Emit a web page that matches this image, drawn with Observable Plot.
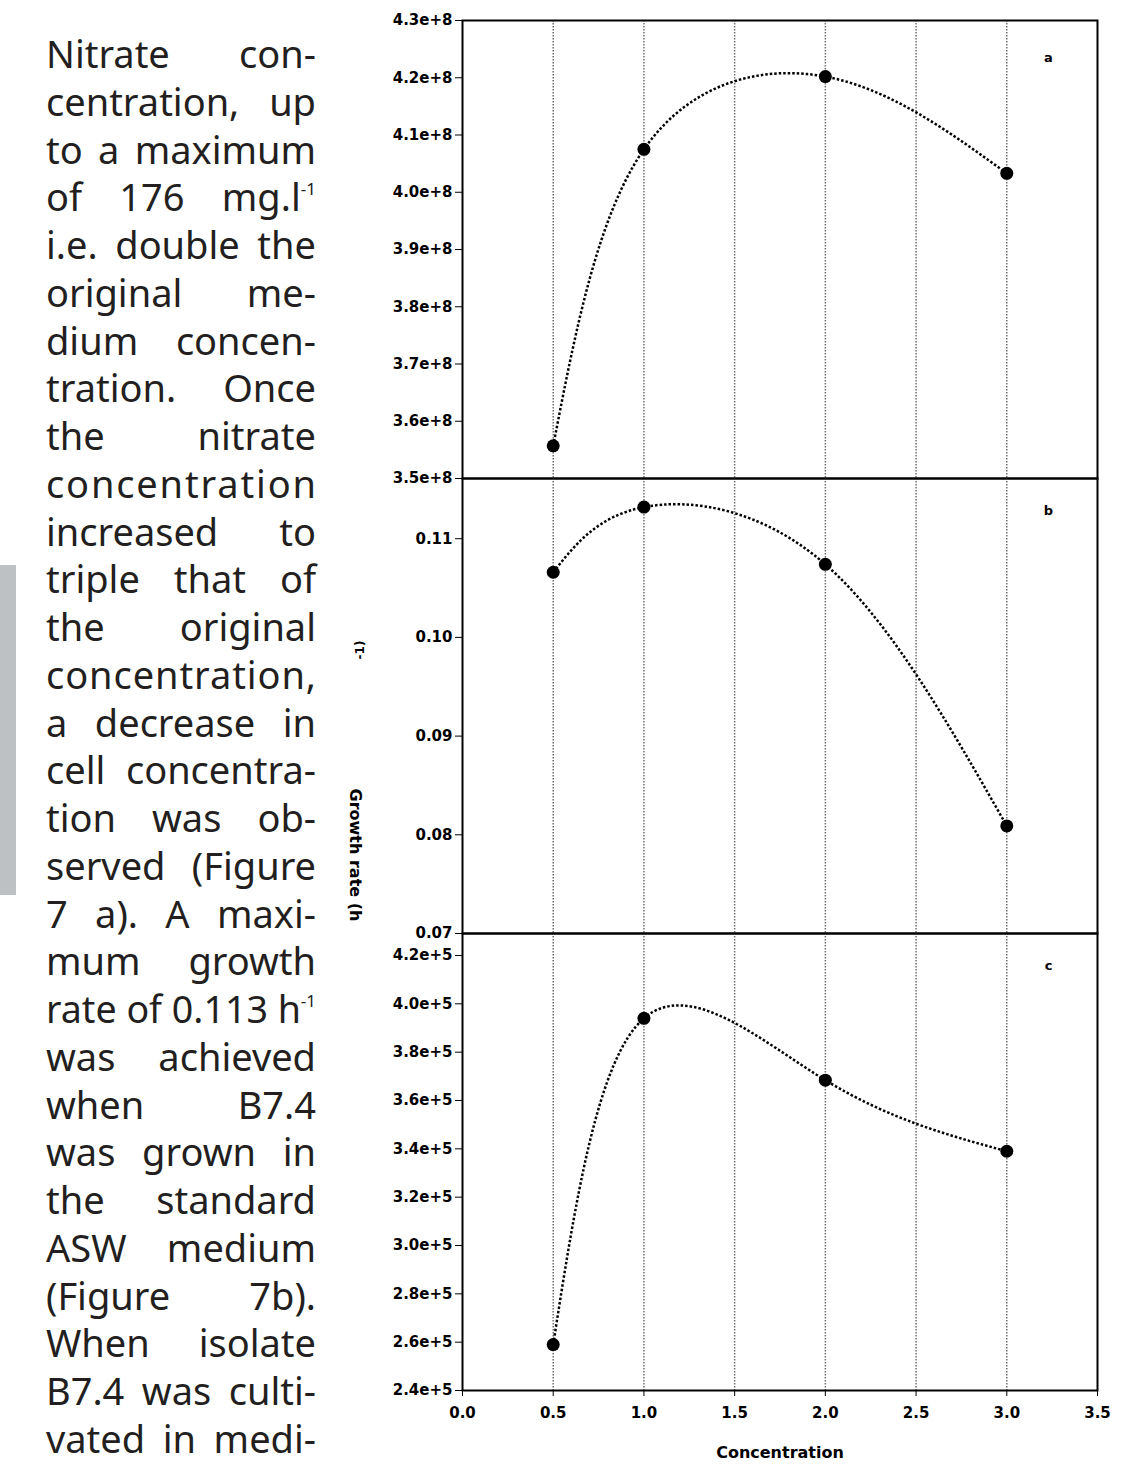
<!DOCTYPE html>
<html>
<head>
<meta charset="utf-8">
<script src="https://cdn.jsdelivr.net/npm/d3@7"></script>
<script src="https://cdn.jsdelivr.net/npm/@observablehq/plot@0.6"></script>
<style>
  html, body { margin: 0; padding: 0; background: white; }
  #page { position: relative; width: 1143px; height: 1464px; overflow: hidden; background: white; }
  #para { position: absolute; left: 46px; top: 30px; width: 270px; font-family: "Noto Sans", sans-serif; font-size: 38px; color: #231f20; }
  #para .ln { height: 47.75px; line-height: 47.75px; width: 270px; white-space: nowrap; }
  #para sup { font-size: 0.45em; line-height: 0; vertical-align: 0.95em; }
  .panel { position: absolute; left: 340px; }
  .lab { position: absolute; font-family: "DejaVu Sans", sans-serif; font-weight: bold; color: black; white-space: nowrap; }
</style>
</head>
<body>
<div id="page">
  <div id="para"></div>
  <div style="position:absolute;left:0;top:565px;width:16px;height:330px;background:#bdc1c4;"></div>
  <div class="lab" style="left:355px;top:855px;font-size:16px;transform:translate(-50%,-50%) rotate(90deg);">Growth rate (h</div>
  <div class="lab" style="left:360px;top:650px;font-size:12px;transform:translate(-50%,-50%) rotate(-90deg);">-1)</div>
  <div class="lab" style="left:780px;top:1452px;font-size:16px;transform:translate(-50%,-50%);">Concentration</div>
</div>
<script>
// ---- data ----
const concentration = [0.5, 1.0, 2.0, 3.0];
const seriesA = [3.557e8, 4.075e8, 4.202e8, 4.033e8];
const seriesB = [0.1066, 0.1132, 0.1074, 0.0809];
const seriesC = [2.59e5, 3.94e5, 3.684e5, 3.39e5];
const ticksA = [3.5e8, 3.6e8, 3.7e8, 3.8e8, 3.9e8, 4.0e8, 4.1e8, 4.2e8, 4.3e8];
const ticksB = [0.07, 0.08, 0.09, 0.10, 0.11];
const ticksC = [2.4e5, 2.6e5, 2.8e5, 3.0e5, 3.2e5, 3.4e5, 3.6e5, 3.8e5, 4.0e5, 4.2e5];
const ticksX = [0, 0.5, 1.0, 1.5, 2.0, 2.5, 3.0, 3.5];
const gridX = [0.5, 1.0, 1.5, 2.0, 2.5, 3.0];
const panelLetters = ["a", "b", "c"];
const textLines = [
  "Nitrate con-", "centration, up", "to a maximum", "of 176 mg.l^-1", "i.e. double the",
  "original me-", "dium concen-", "tration. Once", "the nitrate", "concentration",
  "increased to", "triple that of", "the original", "concentration,", "a decrease in",
  "cell concentra-", "tion was ob-", "served (Figure", "7 a). A maxi-", "mum growth",
  "rate of 0.113 h^-1", "was achieved", "when B7.4", "was grown in", "the standard",
  "ASW medium", "(Figure 7b).", "When isolate", "B7.4 was culti-", "vated in medi-"
];

// ---- paragraph ----
const para = document.getElementById("para");
const W = 270;
for (const t of textLines) {
  const div = document.createElement("div");
  div.className = "ln";
  const span = document.createElement("span");
  span.innerHTML = t.replace(/\^(-1)/, "<sup>$1</sup>");
  div.appendChild(span);
  para.appendChild(div);
  const w = span.getBoundingClientRect().width;
  if (w > W) {
    span.style.display = "inline-block";
    span.style.transformOrigin = "left center";
    span.style.transform = `scaleX(${W / w})`;
  } else if (t.includes(" ")) {
    div.style.whiteSpace = "normal";
    div.style.textAlign = "justify";
    div.style.textAlignLast = "justify";
  } else {
    const n = t.length;
    span.style.letterSpacing = ((W - w) / (n - 1)) + "px";
  }
}

// ---- charts ----
const page = document.getElementById("page");
const baseStyle = {background: "transparent", overflow: "visible", fontFamily: "DejaVu Sans, sans-serif", fontWeight: "bold", fontSize: "15px", color: "black"};

function panel({values, yDomain, yTicks, yFormat, letter, top, height, marginTop, marginBottom, letterDy, showX}) {
  const data = concentration.map((c, i) => ({c, v: values[i]}));
  const plot = Plot.plot({
    width: 777,
    height,
    marginLeft: 122,
    marginRight: 20,
    marginTop,
    marginBottom,
    style: baseStyle,
    x: {domain: [0, 3.5], ticks: ticksX, tickFormat: d3.format(".1f"), tickSize: 6, tickPadding: 11, label: null, axis: showX ? "bottom" : null},
    y: {domain: yDomain, ticks: yTicks, tickFormat: yFormat, tickSize: 7, tickPadding: 3, label: null},
    marks: [
      Plot.ruleX(gridX, {stroke: "#707070", strokeWidth: 1.5, strokeDasharray: "1.5,1.5"}),
      Plot.line(data, {x: "c", y: "v", curve: "natural", stroke: "black", strokeWidth: 2.5, strokeDasharray: "2.5,2", strokeLinecap: "butt"}),
      Plot.dot(data, {x: "c", y: "v", r: 6.5, fill: "black", stroke: "none"}),
      Plot.text([letter], {text: d => d, frameAnchor: "top-right", dx: -49, dy: letterDy, textAnchor: "middle", lineAnchor: "middle", fontSize: 13, fontWeight: "bold", fill: "black"}),
      Plot.frame({stroke: "black", strokeWidth: 2})
    ]
  });
  plot.classList.add("panel");
  plot.style.top = top + "px";
  plot.style.left = "340px";
  plot.style.position = "absolute";
  page.appendChild(plot);
}

panel({values: seriesA, yDomain: [3.5e8, 4.3e8], yTicks: ticksA, yFormat: d3.format(".1e"), letter: panelLetters[0], top: 0, height: 478, marginTop: 20, marginBottom: 0, letterDy: 37, showX: false});
panel({values: seriesB, yDomain: [0.07, 0.1161], yTicks: ticksB, yFormat: d3.format(".2f"), letter: panelLetters[1], top: 478, height: 455, marginTop: 0, marginBottom: 0, letterDy: 32, showX: false});
panel({values: seriesC, yDomain: [2.4e5, 4.291e5], yTicks: ticksC, yFormat: d3.format(".1e"), letter: panelLetters[2], top: 933, height: 531, marginTop: 0, marginBottom: 74, letterDy: 32, showX: true});
</script>
</body>
</html>
